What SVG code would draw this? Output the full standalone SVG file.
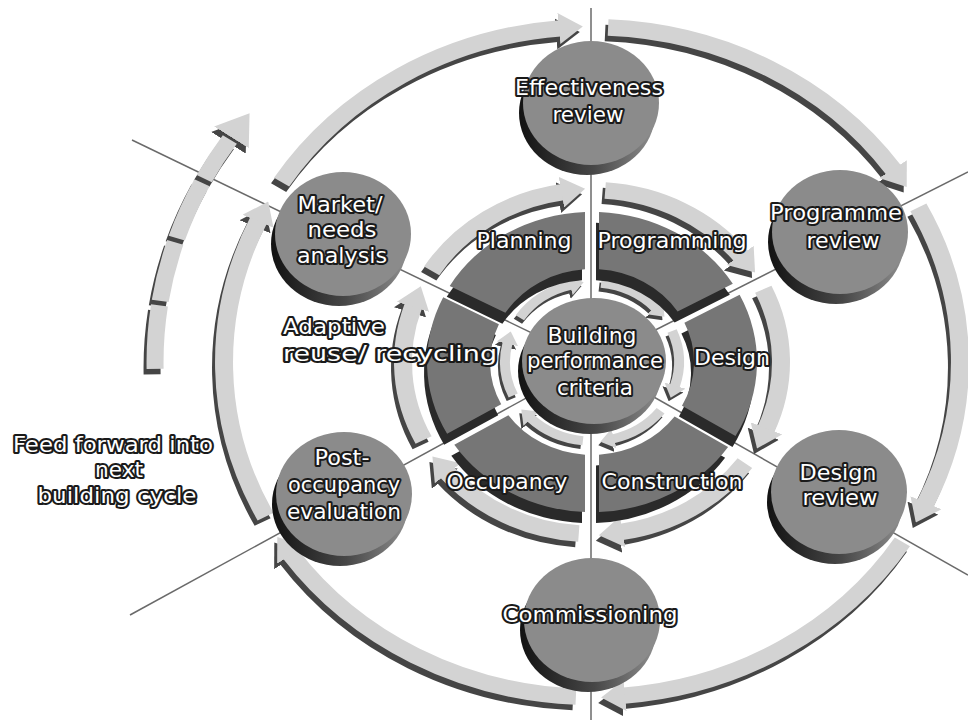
<svg xmlns="http://www.w3.org/2000/svg" xmlns:xlink="http://www.w3.org/1999/xlink" width="968" height="724" viewBox="0 0 968 724">
<style>
.t{font-family:"DejaVu Sans","Liberation Sans",sans-serif;font-size:21px;fill:#fff;stroke:#1a1a1a;stroke-width:4px;paint-order:stroke fill;stroke-linejoin:round;text-anchor:middle}
.side{fill:url(#sideG)}
.face{fill:#8b8b8b}
.sside{fill:#2a2a2a}
.sface{fill:#767676}
.thin{stroke:#6a6a6a;stroke-width:1.5;fill:none}
</style>
<defs>
<linearGradient id="sideG" x1="0" y1="0" x2="1" y2="0">
<stop offset="0" stop-color="#121212"/><stop offset="0.55" stop-color="#474747"/><stop offset="1" stop-color="#8e8e8e"/>
</linearGradient>
<marker id="hL" viewBox="0 0 24 34" markerWidth="24" markerHeight="34" refX="1" refY="17" orient="auto" markerUnits="userSpaceOnUse"><path d="M0,0 L24,17 L0,34 Z" fill="#d3d3d3"/></marker>
<marker id="hD" viewBox="0 0 24 34" markerWidth="24" markerHeight="34" refX="1" refY="17" orient="auto" markerUnits="userSpaceOnUse"><path d="M0,0 L24,17 L0,34 Z" fill="#454545"/></marker>
<marker id="hLs" viewBox="0 0 14 22" markerWidth="14" markerHeight="22" refX="1" refY="11" orient="auto" markerUnits="userSpaceOnUse"><path d="M0,0 L14,11 L0,22 Z" fill="#d3d3d3"/></marker>
<marker id="hDs" viewBox="0 0 14 22" markerWidth="14" markerHeight="22" refX="1" refY="11" orient="auto" markerUnits="userSpaceOnUse"><path d="M0,0 L14,11 L0,22 Z" fill="#454545"/></marker>
<marker id="hLf" viewBox="0 0 32 42" markerWidth="32" markerHeight="42" refX="1" refY="21" orient="auto" markerUnits="userSpaceOnUse"><path d="M0,0 L32,21 L0,42 Z" fill="#d3d3d3"/></marker>
<marker id="hDf" viewBox="0 0 32 42" markerWidth="32" markerHeight="42" refX="1" refY="21" orient="auto" markerUnits="userSpaceOnUse"><path d="M0,0 L32,21 L0,42 Z" fill="#454545"/></marker>
<g id="outerArcs">
<path d="M-310.4,-197.7 A368,368 0 0 1 -32.1,-366.6"/>
<path d="M16.1,-367.6 A368,368 0 0 1 301.5,-211.1"/>
<path d="M326.4,-169.9 A368,368 0 0 1 333.5,155.5"/>
<path d="M310.4,197.7 A368,368 0 0 1 32.1,366.6"/>
<path d="M-16.1,367.6 A368,368 0 0 1 -301.5,211.1"/>
<path d="M-326.4,169.9 A368,368 0 0 1 -333.5,-155.5"/>
</g>
<g id="midArcs">
<path d="M-160.3,-100.2 A189,189 0 0 1 -29.6,-186.7"/>
<path d="M13.2,-188.5 A189,189 0 0 1 148.9,-116.4"/>
<path d="M171.3,-79.9 A189,189 0 0 1 174.0,73.8"/>
<path d="M152.9,111.1 A189,189 0 0 1 29.6,186.7"/>
<path d="M-13.2,188.5 A189,189 0 0 1 -144.8,121.5"/>
<path d="M-168.4,85.8 A189,189 0 0 1 -178.7,-61.5"/>
</g>
<g id="innerArcs">
<path d="M-72.1,-48.7 A87,87 0 0 1 -21.0,-84.4"/>
<path d="M9.1,-86.5 A87,87 0 0 1 63.6,-59.3"/>
<path d="M80.1,-34.0 A87,87 0 0 1 82.7,26.9"/>
<path d="M68.6,53.6 A87,87 0 0 1 21.0,84.4"/>
<path d="M-9.1,86.5 A87,87 0 0 1 -61.5,61.5"/>
<path d="M-78.8,36.8 A87,87 0 0 1 -84.4,-21.0"/>
</g>
<path id="feedArc" d="M-436.9,7.6 A437,437 0 0 1 -360.0,-247.7"/>
<path id="pPlan" d="M-142.3,-83.6 A165,165 0 0 1 -7.0,-164.9 L-7.0,-101.8 A102,102 0 0 0 -86.6,-54.0 Z"/>
<path id="pProg" d="M7.0,-164.9 A165,165 0 0 1 140.8,-86.0 L85.6,-55.5 A102,102 0 0 0 7.0,-101.8 Z"/>
<path id="pDes" d="M147.6,-73.8 A165,165 0 0 1 143.5,81.4 L90.0,48.0 A102,102 0 0 0 92.4,-43.2 Z"/>
<path id="pCon" d="M136.1,93.3 A165,165 0 0 1 7.0,164.9 L7.0,101.8 A102,102 0 0 0 82.6,59.9 Z"/>
<path id="pOcc" d="M-7.0,164.9 A165,165 0 0 1 -137.7,90.9 L-83.6,58.4 A102,102 0 0 0 -7.0,101.8 Z"/>
<path id="pAda" d="M-144.9,78.9 A165,165 0 0 1 -148.8,-71.2 L-93.1,-41.6 A102,102 0 0 0 -90.8,46.4 Z"/>
</defs>
<rect width="968" height="724" fill="#fff"/>

<g id="connectors">
<path class="thin" d="M591,8 V720"/>
<path class="thin" d="M132,140 L592,362"/>
<path class="thin" d="M592,362 L968,172"/>
<path class="thin" d="M592,362 L968,575"/>
<path class="thin" d="M130,615 L592,362"/>
<g transform="translate(592,362) scale(1,0.91)" fill="none">
<use href="#outerArcs" transform="translate(-3,6)" stroke="#454545" stroke-width="18" marker-end="url(#hD)"/>
<use href="#outerArcs" stroke="#d3d3d3" stroke-width="18" marker-end="url(#hL)"/>
<use href="#midArcs" transform="translate(-3,6)" stroke="#454545" stroke-width="18" marker-end="url(#hD)"/>
<use href="#midArcs" stroke="#d3d3d3" stroke-width="18" marker-end="url(#hL)"/>
<use href="#innerArcs" transform="translate(-2,4)" stroke="#454545" stroke-width="10" marker-end="url(#hDs)"/>
<use href="#innerArcs" stroke="#d3d3d3" stroke-width="10" marker-end="url(#hLs)"/>
<use href="#feedArc" transform="translate(-3,6)" stroke="#454545" stroke-width="17" stroke-dasharray="70 5 66 5 66 5 50" marker-end="url(#hDf)"/>
<use href="#feedArc" stroke="#d3d3d3" stroke-width="17" stroke-dasharray="70 5 66 5 66 5 50" marker-end="url(#hLf)"/>
</g>
</g>

<g id="s-planning">
<g transform="translate(592,362) scale(1,0.91)"><use href="#pPlan" class="sside" transform="translate(-3,12)"/><use href="#pPlan" class="sface"/></g>
<text class="t" x="524" y="248" textLength="95" lengthAdjust="spacingAndGlyphs">Planning</text>
</g>
<g id="s-programming">
<g transform="translate(592,362) scale(1,0.91)"><use href="#pProg" class="sside" transform="translate(-3,12)"/><use href="#pProg" class="sface"/></g>
<text class="t" x="672" y="248" textLength="149" lengthAdjust="spacingAndGlyphs">Programming</text>
</g>
<g id="s-design">
<g transform="translate(592,362) scale(1,0.91)"><use href="#pDes" class="sside" transform="translate(-3,12)"/><use href="#pDes" class="sface"/></g>
<text class="t" x="732" y="365" textLength="76" lengthAdjust="spacingAndGlyphs">Design</text>
</g>
<g id="s-construction">
<g transform="translate(592,362) scale(1,0.91)"><use href="#pCon" class="sside" transform="translate(-3,12)"/><use href="#pCon" class="sface"/></g>
<text class="t" x="672" y="489" textLength="141" lengthAdjust="spacingAndGlyphs">Construction</text>
</g>
<g id="s-occupancy">
<g transform="translate(592,362) scale(1,0.91)"><use href="#pOcc" class="sside" transform="translate(-3,12)"/><use href="#pOcc" class="sface"/></g>
<text class="t" x="507" y="489" textLength="121" lengthAdjust="spacingAndGlyphs">Occupancy</text>
</g>
<g id="s-adaptive">
<g transform="translate(592,362) scale(1,0.91)"><use href="#pAda" class="sside" transform="translate(-3,12)"/><use href="#pAda" class="sface"/></g>
<text class="t" x="334" y="334" textLength="102" lengthAdjust="spacingAndGlyphs">Adaptive</text>
<text class="t" x="390" y="361" textLength="214" lengthAdjust="spacingAndGlyphs">reuse/ recycling</text>
</g>

<g id="n-center">
<ellipse class="side" cx="590" cy="371" rx="72" ry="63"/>
<ellipse class="face" cx="594" cy="361" rx="72" ry="63"/>
<text class="t" x="592" y="343" textLength="89" lengthAdjust="spacingAndGlyphs">Building</text>
<text class="t" x="595" y="368" textLength="136" lengthAdjust="spacingAndGlyphs">performance</text>
<text class="t" x="595" y="395" textLength="76" lengthAdjust="spacingAndGlyphs">criteria</text>
</g>

<g id="n-effectiveness">
<ellipse class="side" cx="587" cy="113" rx="68" ry="62"/>
<ellipse class="face" cx="591" cy="103" rx="68" ry="62"/>
<text class="t" x="589" y="95" textLength="148" lengthAdjust="spacingAndGlyphs">Effectiveness</text>
<text class="t" x="588" y="122" textLength="71" lengthAdjust="spacingAndGlyphs">review</text>
</g>
<g id="n-programme">
<ellipse class="side" cx="836" cy="242" rx="68" ry="62"/>
<ellipse class="face" cx="840" cy="232" rx="68" ry="62"/>
<text class="t" x="836" y="220" textLength="132" lengthAdjust="spacingAndGlyphs">Programme</text>
<text class="t" x="843" y="248" textLength="73" lengthAdjust="spacingAndGlyphs">review</text>
</g>
<g id="n-design-review">
<ellipse class="side" cx="835" cy="502" rx="68" ry="62"/>
<ellipse class="face" cx="839" cy="492" rx="68" ry="62"/>
<text class="t" x="838" y="480" textLength="77" lengthAdjust="spacingAndGlyphs">Design</text>
<text class="t" x="840" y="505" textLength="75" lengthAdjust="spacingAndGlyphs">review</text>
</g>
<g id="n-commissioning">
<ellipse class="side" cx="588" cy="630" rx="68" ry="62"/>
<ellipse class="face" cx="592" cy="620" rx="68" ry="62"/>
<text class="t" x="590" y="622" textLength="175" lengthAdjust="spacingAndGlyphs">Commissioning</text>
</g>
<g id="n-post-occupancy">
<ellipse class="side" cx="340" cy="504" rx="68" ry="62"/>
<ellipse class="face" cx="344" cy="494" rx="68" ry="62"/>
<text class="t" x="342" y="465" textLength="55" lengthAdjust="spacingAndGlyphs">Post-</text>
<text class="t" x="344" y="492" textLength="112" lengthAdjust="spacingAndGlyphs">occupancy</text>
<text class="t" x="344" y="519" textLength="114" lengthAdjust="spacingAndGlyphs">evaluation</text>
</g>
<g id="n-market">
<ellipse class="side" cx="339" cy="244" rx="68" ry="62"/>
<ellipse class="face" cx="343" cy="234" rx="68" ry="62"/>
<text class="t" x="340" y="212" textLength="85" lengthAdjust="spacingAndGlyphs">Market/</text>
<text class="t" x="342" y="237" textLength="69" lengthAdjust="spacingAndGlyphs">needs</text>
<text class="t" x="342" y="263" textLength="90" lengthAdjust="spacingAndGlyphs">analysis</text>
</g>

<g id="feed-label">
<text class="t" x="113" y="452" textLength="200" lengthAdjust="spacingAndGlyphs">Feed forward into</text>
<text class="t" x="119" y="477" textLength="48" lengthAdjust="spacingAndGlyphs">next</text>
<text class="t" x="117" y="503" textLength="159" lengthAdjust="spacingAndGlyphs">building cycle</text>
</g>
</svg>
